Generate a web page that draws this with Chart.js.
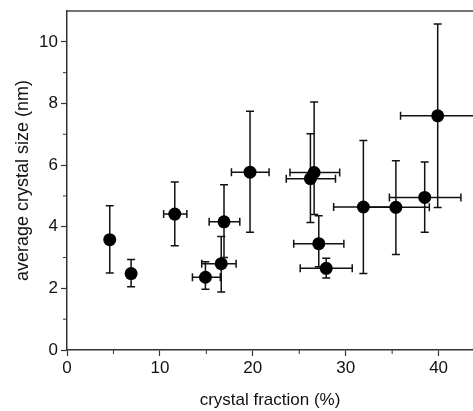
<!DOCTYPE html>
<html>
<head>
<meta charset="utf-8">
<script src="https://cdn.jsdelivr.net/npm/chart.js@4"></script>
<style>
    body { margin: 0; background: #fff; }
    #box { width: 473px; height: 411px; }
</style>
</head>
<body>
<div id="box"><canvas id="grafico"></canvas></div>
<script>
// Dados
const fracao = [4.6, 6.9, 11.6, 14.9, 16.6, 16.9, 19.7, 26.6, 26.2, 27.1, 27.9, 31.9, 35.4, 38.5, 39.9];
const tamanho = [3.58, 2.48, 4.41, 2.36, 2.8, 4.16, 5.77, 5.76, 5.56, 3.45, 2.65, 4.64, 4.63, 4.95, 7.6];

// Barras de erro (limite inferior / superior)
const fracaoMin = [null, null, 10.4, 13.5, 14.5, 15.3, 17.7, 24.0, 23.6, 24.4, 25.1, 28.7, 32.0, 34.7, 35.9];
const fracaoMax = [null, null, 12.9, 16.5, 18.2, 18.6, 21.75, 29.35, 28.9, 29.8, 30.7, 35.0, 39.0, 42.4, 48];
const tamanhoMin = [2.5, 2.05, 3.38, 1.97, 1.88, 3.0, 3.82, 4.4, 4.14, 2.7, 2.34, 2.48, 3.1, 3.82, 4.62];
const tamanhoMax = [4.68, 2.94, 5.45, 2.86, 3.68, 5.36, 7.75, 8.05, 7.02, 4.36, 2.98, 6.8, 6.14, 6.1, 10.58];

// Ticks dos eixos
const ticksX = [0, 10, 20, 30, 40];
const ticksXMenor = [5, 15, 25, 35];
const ticksY = [0, 2, 4, 6, 8, 10];
const ticksYMenor = [1, 3, 5, 7, 9];

const fonte = { family: "'Liberation Sans', Arial, sans-serif", size: 17 };

// Plugin que desenha as barras de erro, a linha de cima e os ticks menores
const barrasErro = {
    id: 'barrasErro',
    beforeDatasetsDraw(chart) {
        const ctx = chart.ctx;
        const x = chart.scales.x, y = chart.scales.y;
        const area = chart.chartArea;
        const cap = 4;
        ctx.save();
        ctx.beginPath();
        ctx.rect(area.left, area.top - 2, area.right - area.left, area.bottom - area.top + 4);
        ctx.clip();
        ctx.strokeStyle = '#111';
        ctx.lineWidth = 1.5;
        fracao.forEach((fx, i) => {
            const px = x.getPixelForValue(fx);
            const py = y.getPixelForValue(tamanho[i]);
            ctx.beginPath();
            // vertical
            if (tamanhoMin[i] !== null) {
                const y1 = y.getPixelForValue(tamanhoMin[i]);
                const y2 = y.getPixelForValue(tamanhoMax[i]);
                ctx.moveTo(px, y1); ctx.lineTo(px, y2);
                ctx.moveTo(px - cap, y1); ctx.lineTo(px + cap, y1);
                ctx.moveTo(px - cap, y2); ctx.lineTo(px + cap, y2);
            }
            // horizontal
            if (fracaoMin[i] !== null) {
                const x1 = x.getPixelForValue(fracaoMin[i]);
                const x2 = x.getPixelForValue(fracaoMax[i]);
                ctx.moveTo(x1, py); ctx.lineTo(x2, py);
                ctx.moveTo(x1, py - cap); ctx.lineTo(x1, py + cap);
                ctx.moveTo(x2, py - cap); ctx.lineTo(x2, py + cap);
            }
            ctx.stroke();
        });
        ctx.restore();

        // linha de cima e ticks menores
        ctx.save();
        ctx.strokeStyle = '#444';
        ctx.lineWidth = 1.5;
        ctx.beginPath();
        ctx.moveTo(area.left, area.top);
        ctx.lineTo(area.right, area.top);
        ctx.stroke();
        ctx.lineWidth = 1;
        ctx.strokeStyle = '#333';
        ctx.beginPath();
        ticksXMenor.forEach(v => {
            const px = x.getPixelForValue(v);
            ctx.moveTo(px, area.bottom); ctx.lineTo(px, area.bottom + 4);
        });
        ticksYMenor.forEach(v => {
            const py = y.getPixelForValue(v);
            ctx.moveTo(area.left, py); ctx.lineTo(area.left - 4, py);
        });
        ctx.stroke();
        ctx.restore();
    }
};

document.addEventListener("DOMContentLoaded", function () {
    const ctx = document.getElementById('grafico').getContext('2d');

    new Chart(ctx, {
        type: 'scatter',
        data: {
            datasets: [{
                data: fracao.map((v, i) => ({ x: v, y: tamanho[i] })),
                pointRadius: 6.5,
                pointBackgroundColor: '#000',
                pointBorderColor: '#000',
                pointBorderWidth: 0
            }]
        },
        options: {
            responsive: true,
            maintainAspectRatio: false,
            animation: false,
            layout: { autoPadding: false, padding: { top: 11, right: 0, left: 0, bottom: 0 } },
            plugins: {
                legend: { display: false },
                tooltip: { enabled: false }
            },
            scales: {
                x: {
                    type: 'linear',
                    min: 0,
                    max: 43.7,
                    afterBuildTicks: s => { s.ticks = ticksX.map(v => ({ value: v })); },
                    afterFit: s => { s.height = 61; s.paddingLeft = 0; s.paddingRight = 0; },
                    grid: { drawOnChartArea: false, tickLength: 6, tickColor: '#333', tickWidth: 1.2 },
                    border: { color: '#333', width: 1.5 },
                    ticks: { font: fonte, color: '#111', padding: 2, maxRotation: 0 },
                    title: {
                        display: true,
                        text: 'crystal fraction (%)',
                        font: { family: fonte.family, size: 17, lineHeight: 1.2 },
                        color: '#111',
                        padding: { top: 0, bottom: 0 }
                    }
                },
                y: {
                    type: 'linear',
                    min: 0,
                    max: 11,
                    afterBuildTicks: s => { s.ticks = ticksY.map(v => ({ value: v })); },
                    afterFit: s => { s.width = 67; s.paddingTop = 0; s.paddingBottom = 0; },
                    grid: { drawOnChartArea: false, tickLength: 6, tickColor: '#333', tickWidth: 1.2 },
                    border: { color: '#333', width: 1.5 },
                    ticks: { font: fonte, color: '#111', padding: 3 },
                    title: {
                        display: true,
                        text: 'average crystal size (nm)',
                        font: { family: fonte.family, size: 18, lineHeight: 1.2 },
                        color: '#111',
                        padding: { top: 12, bottom: 0 }
                    }
                }
            }
        },
        plugins: [barrasErro]
    });
});
</script>
</body>
</html>
